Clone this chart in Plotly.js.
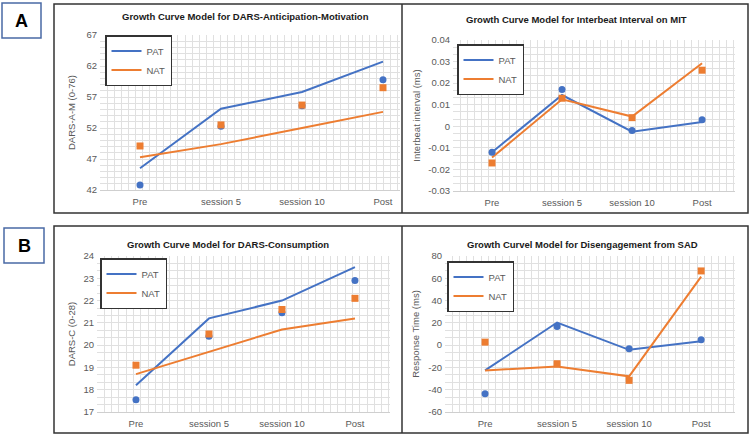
<!DOCTYPE html>
<html><head><meta charset="utf-8">
<script src="https://cdn.plot.ly/plotly-3.0.1.min.js"></script>
<style>html,body{margin:0;padding:0;background:#fff}#chart{width:750px;height:437px}</style>
</head><body><div id="chart"></div>
<script>
// ---- data ----
const sessions = ['Pre', 'session 5', 'session 10', 'Post'];
const groups = ['PAT', 'NAT'];

// Panel A (left): DARS-Anticipation-Motivation
const amPatFit = [45.5, 55.1, 57.8, 62.7];
const amNatFit = [47.3, 49.4, 52.0, 54.6];
const amPatObs = [42.8, 52.3, 55.6, 59.8];
const amNatObs = [49.1, 52.5, 55.7, 58.5];
const amTicks = [42, 47, 52, 57, 62, 67];
const amTickText = ['42', '47', '52', '57', '62', '67'];

// Panel A (right): Interbeat interval on MIT
const ibiPatFit = [-0.012, 0.0145, -0.0025, 0.002];
const ibiNatFit = [-0.0145, 0.0125, 0.0045, 0.0292];
const ibiPatObs = [-0.012, 0.017, -0.002, 0.003];
const ibiNatObs = [-0.017, 0.013, 0.004, 0.026];
const ibiTicks = [-0.03, -0.02, -0.01, 0, 0.01, 0.02, 0.03, 0.04];
const ibiTickText = ['-0.03', '-0.02', '-0.01', '0', '0.01', '0.02', '0.03', '0.04'];

// Panel B (left): DARS-Consumption
const cPatFit = [18.2, 21.2, 22.0, 23.5];
const cNatFit = [18.7, 19.7, 20.7, 21.2];
const cPatObs = [17.55, 20.4, 21.45, 22.9];
const cNatObs = [19.1, 20.5, 21.6, 22.1];
const cTicks = [17, 18, 19, 20, 21, 22, 23, 24];
const cTickText = ['17', '18', '19', '20', '21', '22', '23', '24'];

// Panel B (right): Disengagement from SAD
const sadPatFit = [-22.7, 20.3, -4.2, 3.5];
const sadNatFit = [-22.7, -19.1, -28.0, 61.5];
const sadPatObs = [-43.6, 16.7, -3.3, 4.8];
const sadNatObs = [2.7, -16.7, -31.6, 66.6];
const sadTicks = [-60, -40, -20, 0, 20, 40, 60, 80];
const sadTickText = ['-60', '-40', '-20', '0', '20', '40', '60', '80'];

const panelTitles = [
  'Growth Curve Model for DARS-Anticipation-Motivation',
  'Growth Curve Model for Interbeat Interval on MIT',
  'Growth Curve Model for DARS-Consumption',
  'Growth Curvel Model for Disengagement from SAD'
];
const yTitles = ['DARS-A-M (0-76)', 'Interbeat interval (ms)', 'DARS-C (0-28)', 'Response Time (ms)'];
const panelLabels = ['A', 'B'];

// ---- layout helpers ----
const W = 750, H = 437;
const px = v => v / W, py = v => 1 - v / H;
const BLUE = '#4472C4', ORANGE = '#ED7D31';
const FONT = '"Liberation Sans", Arial, sans-serif';
const GRID = '#e0e0e0';
const xIdx = sessions.map((_, i) => i);
// evenly spaced background grid positions (pattern-fill look)
function gridVals(lo, hi, step) {
  const out = [];
  for (let k = 0; lo + k * step <= hi + step * 1e-6; k++) out.push(lo + k * step);
  return out;
}

const panels = [
  {pat: amPatFit, nat: amNatFit, patObs: amPatObs, natObs: amNatObs, tv: amTicks, tt: amTickText,
   xd: [100, 400], yd: [190, 35], xr: [-0.494, 3.21], xm: 0.0875, ym: 1, tpos: [245, 17], lpos: [105, 35], so: 9},
  {pat: ibiPatFit, nat: ibiNatFit, patObs: ibiPatObs, natObs: ibiNatObs, tv: ibiTicks, tt: ibiTickText,
   xd: [453, 735], yd: [191, 40], xr: [-0.557, 3.47], xm: 0.1, ym: 0.01 / 3, tpos: [576, 20], lpos: [457, 44], so: 6},
  {pat: cPatFit, nat: cNatFit, patObs: cPatObs, natObs: cNatObs, tv: cTicks, tt: cTickText,
   xd: [97, 390], yd: [412, 256], xr: [-0.534, 3.48], xm: 0.1, ym: 1 / 3, tpos: [228, 244], lpos: [100, 258], so: 6},
  {pat: sadPatFit, nat: sadNatFit, patObs: sadPatObs, natObs: sadNatObs, tv: sadTicks, tt: sadTickText,
   xd: [445, 735], yd: [412, 256], xr: [-0.556, 3.47], xm: 0.1, ym: 20 / 3, tpos: [582, 244], lpos: [447, 261], so: 6}
];

const traces = [];
const layout = {
  width: W, height: H,
  margin: {l: 0, r: 0, t: 0, b: 0},
  paper_bgcolor: '#ffffff', plot_bgcolor: '#ffffff',
  font: {family: FONT, size: 9.5, color: '#595959'},
  showlegend: true,
  annotations: [], shapes: []
};

panels.forEach((p, i) => {
  const n = i + 1;
  const xa = n === 1 ? 'x' : 'x' + n, ya = n === 1 ? 'y' : 'y' + n;
  const lg = n === 1 ? 'legend' : 'legend' + n;
  const yMin = Math.min(...p.tv), yMax = Math.max(...p.tv);

  traces.push({x: xIdx, y: p.pat, xaxis: xa, yaxis: ya, legend: lg, name: groups[0], mode: 'lines',
    line: {color: BLUE, width: 2}, hoverinfo: 'skip'});
  traces.push({x: xIdx, y: p.nat, xaxis: xa, yaxis: ya, legend: lg, name: groups[1], mode: 'lines',
    line: {color: ORANGE, width: 2}, hoverinfo: 'skip'});
  traces.push({x: xIdx, y: p.patObs, xaxis: xa, yaxis: ya, legend: lg, showlegend: false, mode: 'markers',
    marker: {color: BLUE, size: 7, symbol: 'circle'}, hoverinfo: 'skip'});
  traces.push({x: xIdx, y: p.natObs, xaxis: xa, yaxis: ya, legend: lg, showlegend: false, mode: 'markers',
    marker: {color: ORANGE, size: 7, symbol: 'square'}, hoverinfo: 'skip'});

  layout['xaxis' + (n === 1 ? '' : n)] = {
    domain: [px(p.xd[0]), px(p.xd[1])], anchor: ya, range: p.xr, fixedrange: true,
    tickmode: 'array', tickvals: xIdx, ticktext: sessions, ticks: '', ticklabelstandoff: 3,
    showgrid: false, zeroline: false, showline: true, linecolor: '#cfcfcf', linewidth: 1,
    tickfont: {family: FONT, size: 9.5, color: '#595959'},
    minor: {tickmode: 'array', tickvals: gridVals(p.xr[0], p.xr[1], p.xm), showgrid: true,
            gridcolor: GRID, gridwidth: 1, ticks: ''}
  };
  layout['yaxis' + (n === 1 ? '' : n)] = {
    domain: [py(p.yd[0]), py(p.yd[1])], anchor: xa, range: [yMin, yMax], fixedrange: true,
    tickmode: 'array', tickvals: p.tv, ticktext: p.tt, ticks: '', ticklabelstandoff: 2,
    showgrid: false, zeroline: false, showline: false,
    tickfont: {family: FONT, size: 9.5, color: '#595959'},
    title: {text: yTitles[i], font: {family: FONT, size: 9.5, color: '#595959'}, standoff: p.so},
    minor: {tickmode: 'array', tickvals: gridVals(yMin, yMax, p.ym), showgrid: true,
            gridcolor: GRID, gridwidth: 1, ticks: ''}
  };
  layout[lg] = {
    x: px(p.lpos[0]), y: py(p.lpos[1]), xanchor: 'left', yanchor: 'top',
    bgcolor: '#ffffff', bordercolor: '#333333', borderwidth: 1.5, itemwidth: 30,
    font: {family: FONT, size: 9.5, color: '#595959'}, tracegroupgap: 0
  };
  layout.annotations.push({
    text: '<b>' + panelTitles[i] + '</b>', xref: 'paper', yref: 'paper',
    x: px(p.tpos[0]), y: py(p.tpos[1]), xanchor: 'center', yanchor: 'middle', showarrow: false,
    font: {family: FONT, size: 9.5, color: '#1a1a1a'}
  });
});

// outer frames of the two figure rows
[[4, 213], [226, 433]].forEach(([t, b]) => {
  layout.shapes.push({type: 'rect', xref: 'paper', yref: 'paper', x0: px(54), x1: px(748), y0: py(b), y1: py(t),
    line: {color: '#333333', width: 1.5}});
  layout.shapes.push({type: 'line', xref: 'paper', yref: 'paper', x0: px(402), x1: px(402), y0: py(b), y1: py(t),
    line: {color: '#333333', width: 1.5}});
});
// panel label boxes
[[2, 41, 3, 38], [4, 44, 228, 263]].forEach(([l, r, t, b], k) => {
  layout.shapes.push({type: 'rect', xref: 'paper', yref: 'paper', x0: px(l), x1: px(r), y0: py(b), y1: py(t),
    line: {color: '#4a6aa5', width: 1.5}, fillcolor: '#ffffff'});
  layout.annotations.push({text: '<b>' + panelLabels[k] + '</b>', xref: 'paper', yref: 'paper',
    x: px((l + r) / 2), y: py((t + b) / 2), xanchor: 'center', yanchor: 'middle', showarrow: false,
    font: {family: FONT, size: 18, color: '#000000'}});
});

Plotly.newPlot('chart', traces, layout, {displayModeBar: false, staticPlot: true});
</script></body></html>
